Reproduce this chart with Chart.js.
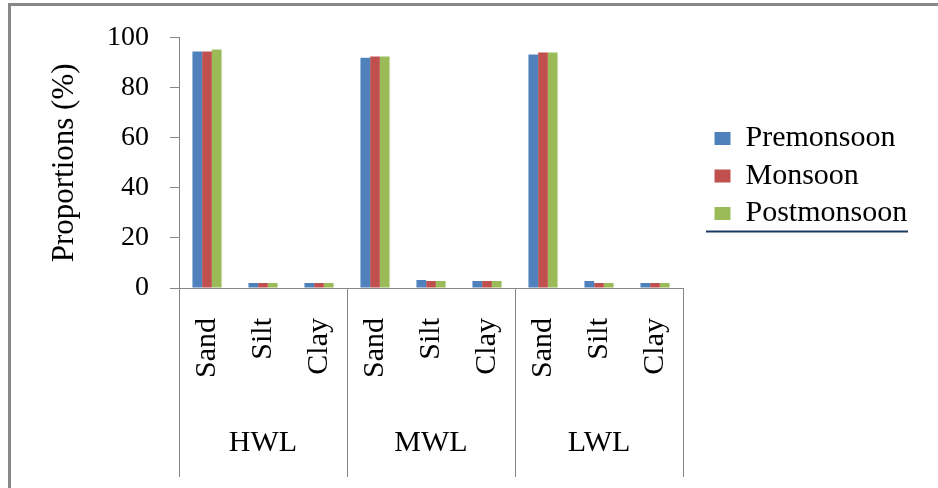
<!DOCTYPE html>
<html>
<head>
<meta charset="utf-8">
<script src="https://cdn.jsdelivr.net/npm/chart.js@4/dist/chart.umd.min.js"></script>
<style>
  html, body { margin: 0; padding: 0; background: #fff; }
  #wrap { width: 938px; height: 488px; }
</style>
</head>
<body>
<div id="wrap"><canvas id="c" width="938" height="488"></canvas></div>
<script>
// Sediment grain-size proportions by water level and season
const categories = ['Sand', 'Silt', 'Clay', 'Sand', 'Silt', 'Clay', 'Sand', 'Silt', 'Clay'];
const groups = ['HWL', 'MWL', 'LWL'];
const seriesNames = ['Premonsoon', 'Monsoon', 'Postmonsoon'];
const premonsoon = [94.5, 2.0, 2.0, 92.0, 3.2, 2.8, 93.3, 2.8, 2.0];
const monsoon = [94.5, 2.0, 2.0, 92.5, 2.8, 2.8, 94.1, 2.0, 2.0];
const postmonsoon = [95.3, 2.0, 2.0, 92.5, 2.8, 2.8, 94.1, 2.0, 2.0];
const yTicks = [0, 20, 40, 60, 80, 100];

const SERIF = '"Liberation Serif", "Times New Roman", serif';
const AXIS_GREY = '#878787';

// white background and the grey frame on the top and left edges
const framePlugin = {
  id: 'frame',
  beforeDraw(chart) {
    const ctx = chart.ctx;
    ctx.save();
    ctx.fillStyle = '#fff';
    ctx.fillRect(0, 0, chart.width, chart.height);
    ctx.fillStyle = '#888';
    ctx.fillRect(8, 3, chart.width - 8, 3);
    ctx.fillRect(8, 3, 3, chart.height - 3);
    ctx.restore();
  }
};

// group separators below the axis and the group names (HWL, MWL, LWL)
const groupAxisPlugin = {
  id: 'groupAxis',
  afterDraw(chart) {
    const xs = chart.scales.x;
    const ctx = chart.ctx;
    const per = categories.length / groups.length;
    const top = xs.top;
    const bottom = xs.bottom - 11;
    const edge = i => {
      if (i <= 0) return chart.chartArea.left;
      if (i >= categories.length) return chart.chartArea.right;
      return (xs.getPixelForValue(i - 1) + xs.getPixelForValue(i)) / 2;
    };
    ctx.save();
    ctx.strokeStyle = AXIS_GREY;
    ctx.lineWidth = 1;
    for (let g = 0; g <= groups.length; g++) {
      const x = Math.round(edge(g * per)) + 0.5;
      ctx.beginPath();
      ctx.moveTo(x, top);
      ctx.lineTo(x, bottom);
      ctx.stroke();
    }
    ctx.fillStyle = '#000';
    ctx.font = '30px ' + SERIF;
    ctx.textAlign = 'center';
    ctx.textBaseline = 'middle';
    groups.forEach((name, g) => {
      const cx = (edge(g * per) + edge((g + 1) * per)) / 2;
      ctx.fillText(name, cx, top + 155);
    });
    ctx.restore();
  }
};

// keep a gap between plot and legend, and rule a line under the legend
const legendPlacePlugin = {
  id: 'legendPlace',
  afterLayout(chart) {
    const lg = chart.legend;
    lg.left += 24; lg.right += 24;
    lg.top += 13; lg.bottom += 13;
  },
  afterDraw(chart) {
    const lg = chart.legend;
    const boxes = lg.legendHitBoxes;
    if (!boxes || !boxes.length) return;
    const last = boxes[boxes.length - 1];
    const ctx = chart.ctx;
    const y = last.top + last.height + 3;
    ctx.save();
    ctx.strokeStyle = '#1F3A60';
    ctx.lineWidth = 2;
    ctx.beginPath();
    ctx.moveTo(lg.left - 1, y);
    ctx.lineTo(lg.left + 201, y);
    ctx.stroke();
    ctx.restore();
  }
};

const colours = ['#4F81BD', '#C0504D', '#9BBB59'];
const values = [premonsoon, monsoon, postmonsoon];

new Chart(document.getElementById('c'), {
  type: 'bar',
  data: {
    labels: categories,
    datasets: seriesNames.map((name, i) => ({
      label: name,
      data: values[i],
      backgroundColor: colours[i],
      borderWidth: 0,
      categoryPercentage: 0.52,
      barPercentage: 1.0
    }))
  },
  plugins: [framePlugin, groupAxisPlugin, legendPlacePlugin],
  options: {
    responsive: false,
    animation: false,
    layout: { padding: { top: 37, left: 46, right: 55, bottom: 0 } },
    plugins: {
      tooltip: { enabled: false },
      legend: {
        position: 'right',
        align: 'center',
        fullSize: false,
        maxWidth: 200,
        labels: {
          font: { family: SERIF, size: 30 },
          color: '#000',
          boxWidth: 16,
          boxHeight: 13,
          padding: 7.5
        }
      }
    },
    scales: {
      x: {
        afterFit(scale) { scale.height = 200; },
        grid: { display: false, drawTicks: false },
        border: { display: true, color: AXIS_GREY, width: 1 },
        ticks: {
          autoSkip: false,
          maxRotation: 90,
          minRotation: 90,
          padding: 30,
          color: '#000',
          font: { family: SERIF, size: 30 }
        }
      },
      y: {
        min: 0,
        max: 100,
        afterFit(scale) { scale.width = 133; },
        afterBuildTicks(scale) { scale.ticks = yTicks.map(v => ({ value: v })); },
        grid: { display: true, drawOnChartArea: false, drawTicks: true, tickLength: 9, color: AXIS_GREY },
        border: { display: true, color: AXIS_GREY, width: 1 },
        ticks: {
          padding: 21,
          color: '#000',
          font: { family: SERIF, size: 28 }
        },
        title: {
          display: true,
          text: 'Proportions (%)',
          color: '#000',
          font: { family: SERIF, size: 31 },
          padding: { top: 0, bottom: 25 }
        }
      }
    }
  }
});
</script>
</body>
</html>
